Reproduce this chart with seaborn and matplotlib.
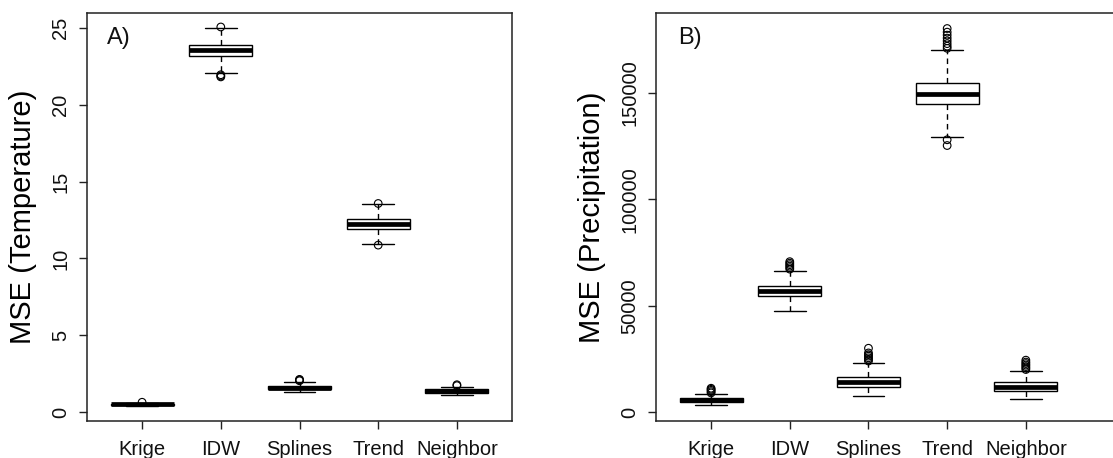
import pandas as pd
import numpy as np
import seaborn as sns
import matplotlib.pyplot as plt

# five-number summaries per method: lower whisker, Q1, median, Q3, upper whisker
methods = ['Krige', 'IDW', 'Splines', 'Trend', 'Neighbor']

temp_krige = [0.40, 0.47, 0.50, 0.54, 0.60]
temp_idw = [22.05, 23.15, 23.55, 23.90, 24.98]
temp_splines = [1.28, 1.50, 1.60, 1.72, 1.98]
temp_trend = [10.94, 11.90, 12.22, 12.56, 13.52]
temp_neighbor = [1.11, 1.27, 1.39, 1.53, 1.65]

temp_out_method = ['Krige', 'IDW', 'IDW', 'IDW', 'IDW', 'Splines', 'Splines',
                   'Splines', 'Trend', 'Trend', 'Neighbor', 'Neighbor']
temp_out_value = [0.64, 25.07, 21.96, 21.88, 21.82, 2.04, 2.09, 2.13,
                  13.58, 10.87, 1.72, 1.78]

prec_krige = [3300, 4700, 5700, 6400, 8300]
prec_idw = [47600, 54500, 56900, 59400, 66400]
prec_splines = [7500, 11900, 14250, 16600, 23200]
prec_trend = [129300, 144700, 149700, 154800, 170200]
prec_neighbor = [6250, 10000, 11900, 14000, 19300]

prec_out_method = (['Krige'] * 5 + ['IDW'] * 6 + ['Splines'] * 7 +
                   ['Trend'] * 10 + ['Neighbor'] * 7)
prec_out_value = [9000, 9600, 10200, 10700, 11200,
                  67200, 67900, 68600, 69300, 70000, 70700,
                  24000, 24800, 25500, 26300, 27000, 27800, 30000,
                  171000, 172000, 173200, 174500, 175800, 177200, 178600,
                  180300, 128000, 125300,
                  20000, 20700, 21400, 22100, 22800, 23500, 24400]


def long_table(groups):
    rows = []
    for name, vals in zip(methods, groups):
        for v in vals:
            rows.append((name, v))
    return pd.DataFrame(rows, columns=['method', 'value'])


temp_df = long_table([temp_krige, temp_idw, temp_splines, temp_trend, temp_neighbor])
prec_df = long_table([prec_krige, prec_idw, prec_splines, prec_trend, prec_neighbor])
temp_out = pd.DataFrame({'method': temp_out_method, 'value': temp_out_value})
prec_out = pd.DataFrame({'method': prec_out_method, 'value': prec_out_value})

sns.set_style('ticks')
plt.rcParams['font.family'] = ['Liberation Sans', 'DejaVu Sans']
plt.rcParams['text.color'] = 'black'
plt.rcParams['axes.labelcolor'] = 'black'
plt.rcParams['xtick.color'] = 'black'
plt.rcParams['ytick.color'] = 'black'

fig = plt.figure(figsize=(11.13, 4.58), dpi=100)
W, H = 1113, 458
ax_a = fig.add_axes([87 / W, 37 / H, 425 / W, 408 / H])
ax_b = fig.add_axes([656 / W, 37 / H, 469 / W, 408 / H])


def draw_panel(ax, box_df, out_df, ylabel, tag, yticks, ylim, xlim):
    sns.boxplot(data=box_df, x='method', y='value', order=methods, ax=ax,
                whis=(0, 100), width=0.8, color='white', linecolor='black',
                linewidth=1.0, showfliers=False,
                medianprops={'linewidth': 3.4, 'color': 'black'},
                whiskerprops={'linestyle': (0, (4, 3))},
                capwidths=0.4)
    sns.stripplot(data=out_df, x='method', y='value', order=methods, ax=ax,
                  jitter=False, color='white', edgecolor='black',
                  linewidth=0.8, size=5.5, zorder=5)
    for coll in ax.collections:
        coll.set_facecolor('none')
    ax.set_xlim(*xlim)
    ax.set_ylim(*ylim)
    ax.set_yticks(yticks)
    ax.set_yticklabels([str(t) for t in yticks], rotation=90, va='center')
    ax.set_xlabel('')
    ax.set_ylabel(ylabel, fontsize=21, labelpad=10, color='black')
    ax.tick_params(axis='both', labelsize=14.5, length=6, width=1,
                   color='#222222', labelcolor='#111111')
    ax.tick_params(axis='x', pad=8)
    ax.tick_params(axis='y', pad=6)
    for sp in ax.spines.values():
        sp.set_visible(True)
        sp.set_linewidth(1.1)
        sp.set_color('#222222')
    ax.text(0.047, 0.965, tag, transform=ax.transAxes, fontsize=17,
            ha='left', va='top', color='#111111')


draw_panel(ax_a, temp_df, temp_out, 'MSE (Temperature)', 'A)',
           [0, 5, 10, 15, 20, 25], (-0.58, 25.98), (-0.70, 4.70))
draw_panel(ax_b, prec_df, prec_out, 'MSE (Precipitation)', 'B)',
           [0, 50000, 100000, 150000], (-4200, 187600), (-0.70, 5.26))

fig.savefig('out.png', dpi=100)
